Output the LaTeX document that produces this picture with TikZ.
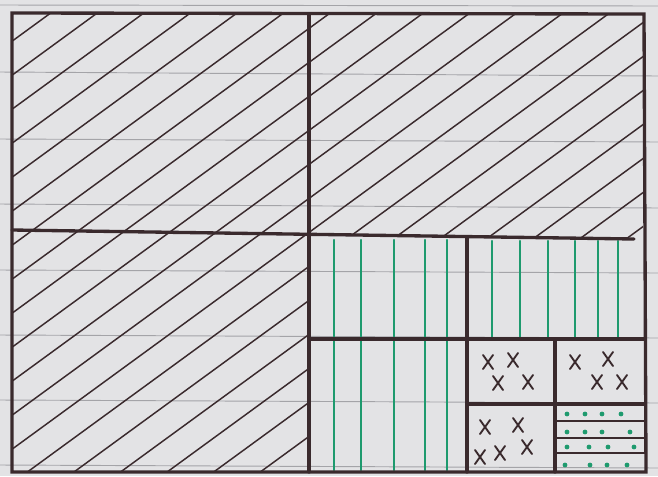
\documentclass[tikz,border=0pt]{standalone}
\begin{document}
\begin{tikzpicture}[x=0.75pt,y=-0.75pt,
  paper/.style={fill=paperbg},
  rule/.style={draw=rulegray,line width=0.7pt},
  pen/.style={draw=ink,line width=2.5pt,line cap=round},
  hatch/.style={draw=ink,line width=1.1pt},
  greenline/.style={draw=penGreen,line width=1.6pt,line cap=round},
  xmark/.style={draw=ink,line width=1.4pt,line cap=round},
  dot/.style={fill=penGreen}]
\definecolor{paperbg}{HTML}{E3E3E5}
\definecolor{rulegray}{HTML}{A4A4A8}
\definecolor{ink}{HTML}{3A2A2D}
\definecolor{penGreen}{HTML}{1E9A6E}
\useasboundingbox (0,0) rectangle (658,476);
\fill[paper] (0,0) rectangle (658,476);
% ruled paper lines
\foreach \y/\z in {5/6,72/76,139/142,204/208,270/273,335/338,400/403,465/468}
  \draw[rule] (0,\y) -- (658,\z);
% diagonal hatching
\begin{scope}
  \clip (13,14) -- (643,14) -- (643,238) -- (309,235) -- (309,471) -- (13,471) -- cycle;
  \foreach \c in {50,84,...,960}
    \draw[hatch] (0,\c) -- (660,{\c-0.73*660});
\end{scope}
% green vertical lines
\foreach \x in {334,361,394,425,447}
  \draw[greenline] (\x,240) -- (\x,470);
\foreach \x in {492,520,548,575,598,618}
  \draw[greenline] (\x,241) -- (\x,338);
% outer frame and main divisions
\draw[pen] (12,13) -- (644,14) -- (646,472) -- (12,472) -- cycle;
\draw[pen] (309,14) -- (309,472);
\draw[pen] (12,230) -- (634,239);
\draw[pen] (309,339) -- (645,339);
\draw[pen] (467,238) -- (467,472);
\draw[pen] (555,339) -- (555,472);
\draw[pen] (467,404) -- (645,404);
\draw[pen,line width=1.8pt] (555,421) -- (645,421);
\draw[pen,line width=1.8pt] (555,438) -- (645,438);
\draw[pen,line width=1.8pt] (555,453) -- (645,453);
% crosses
\foreach \x/\y in {488/362,513/360,498/383,528/382,575/362,608/359,597/382,622/382,485/427,518/425,500/453,527/447,480/457}
  \draw[xmark] (\x-5,\y-7) -- (\x+5,\y+7) (\x+5,\y-7) -- (\x-5,\y+7);
% dots
\foreach \x/\y in {567/414,585/414,602/414,621/414,567/432,585/432,602/432,630/432,567/447,589/447,608/447,634/447,565/465,590/465,607/465,627/465}
  \fill[dot] (\x,\y) circle (2.4);
\end{tikzpicture}
\end{document}
